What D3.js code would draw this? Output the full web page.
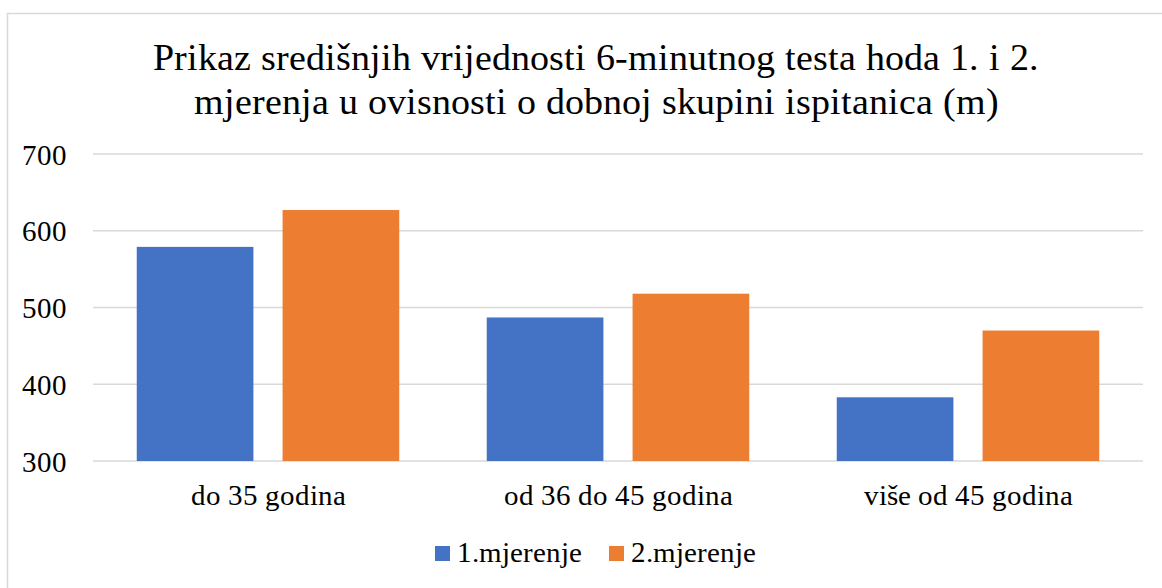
<!DOCTYPE html>
<html lang="hr">
<head>
<meta charset="utf-8">
<script src="https://cdn.jsdelivr.net/npm/d3@7"></script>
<style>
  @font-face {
    font-family: 'ChartSerif';
    src: local('Liberation Serif'), local('LiberationSerif'), local('Liberation Serif Regular'),
         local('LiberationSerif-Regular'), local('Tinos'), local('Times New Roman');
  }
</style>
</head>
<body style="margin:0; background:#fff">
<div id="chart"></div>
<script>
// data
const categories = ['do 35 godina', 'od 36 do 45 godina', 'više od 45 godina'];
const seriesNames = ['1.mjerenje', '2.mjerenje'];
const mjerenje1 = [579, 487, 383];
const mjerenje2 = [627, 518, 470];
const yTicks = [300, 400, 500, 600, 700];
const titleLines = ['Prikaz središnjih vrijednosti 6-minutnog testa hoda 1. i 2.',
                    'mjerenja u ovisnosti o dobnoj skupini ispitanica (m)'];

const colors = ['#4472C4', '#ED7D31'];
const W = 1162, H = 588;
const fontFam = 'ChartSerif, "Liberation Serif", Tinos, "Times New Roman"';

const svg = d3.select('#chart').append('svg')
    .attr('width', W)
    .attr('height', H)
    .style('font-family', fontFam);

// chart area border (runs off the right/bottom edge)
svg.append('rect')
    .attr('x', 7.5).attr('y', 13.5)
    .attr('width', W).attr('height', H)
    .attr('fill', 'none')
    .attr('stroke', '#d9d9d9')
    .attr('stroke-width', 1.5);

const margin = {left: 93, right: 19, top: 154, bottom: 127};
const plotW = W - margin.left - margin.right;
const plotH = H - margin.top - margin.bottom;

const x0 = d3.scaleBand()
    .domain(categories)
    .range([0, plotW])
    .padding(0);
const x1 = d3.scaleBand()
    .domain(seriesNames)
    .range([0, x0.bandwidth()])
    .paddingInner(0.2)
    .paddingOuter(0.3);
const y = d3.scaleLinear()
    .domain([300, 700])
    .range([plotH, 0]);

const plot = svg.append('g')
    .attr('transform', `translate(${margin.left},${margin.top})`);

// gridlines
plot.append('g')
    .selectAll('line')
    .data(yTicks)
    .enter().append('line')
        .attr('x1', 0).attr('x2', plotW)
        .attr('y1', d => y(d)).attr('y2', d => y(d))
        .attr('stroke', '#d9d9d9')
        .attr('stroke-width', 1.5);

// y labels
plot.append('g')
    .selectAll('text')
    .data(yTicks)
    .enter().append('text')
        .attr('x', -26)
        .attr('y', d => y(d) + 10.5)
        .attr('text-anchor', 'end')
        .style('font-family', fontFam)
        .style('font-size', '28.7px')
        .text(d => d);

// bars
const rows = categories.map((c, i) => ({cat: c, vals: [mjerenje1[i], mjerenje2[i]]}));
const groups = plot.selectAll('g.grp')
    .data(rows)
    .enter().append('g')
        .attr('class', 'grp')
        .attr('transform', d => `translate(${x0(d.cat)},0)`);
groups.selectAll('rect')
    .data(d => d.vals.map((v, j) => ({name: seriesNames[j], v: v, j: j})))
    .enter().append('rect')
        .attr('x', d => x1(d.name))
        .attr('y', d => y(d.v))
        .attr('width', x1.bandwidth())
        .attr('height', d => plotH - y(d.v))
        .attr('fill', d => colors[d.j]);

// category labels
plot.append('g')
    .selectAll('text')
    .data(categories)
    .enter().append('text')
        .attr('x', d => x0(d) + x0.bandwidth() / 2)
        .attr('y', plotH + 44)
        .attr('text-anchor', 'middle')
        .style('font-family', fontFam)
        .style('font-size', '28.7px')
        .text(d => d);

// title
svg.append('g')
    .selectAll('text')
    .data(titleLines)
    .enter().append('text')
        .attr('x', 596)
        .attr('y', (d, i) => 70 + i * 44)
        .attr('text-anchor', 'middle')
        .style('font-family', fontFam)
        .style('font-size', '38px')
        .text(d => d);

// legend
const legend = svg.append('g');
const legendX = [435, 609];
seriesNames.forEach((s, i) => {
  legend.append('rect')
      .attr('x', legendX[i]).attr('y', 546)
      .attr('width', 15).attr('height', 15)
      .attr('fill', colors[i]);
  legend.append('text')
      .attr('x', legendX[i] + 22)
      .attr('y', 562)
      .style('font-family', fontFam)
      .style('font-size', '28.7px')
      .text(s);
});
</script>
</body>
</html>
